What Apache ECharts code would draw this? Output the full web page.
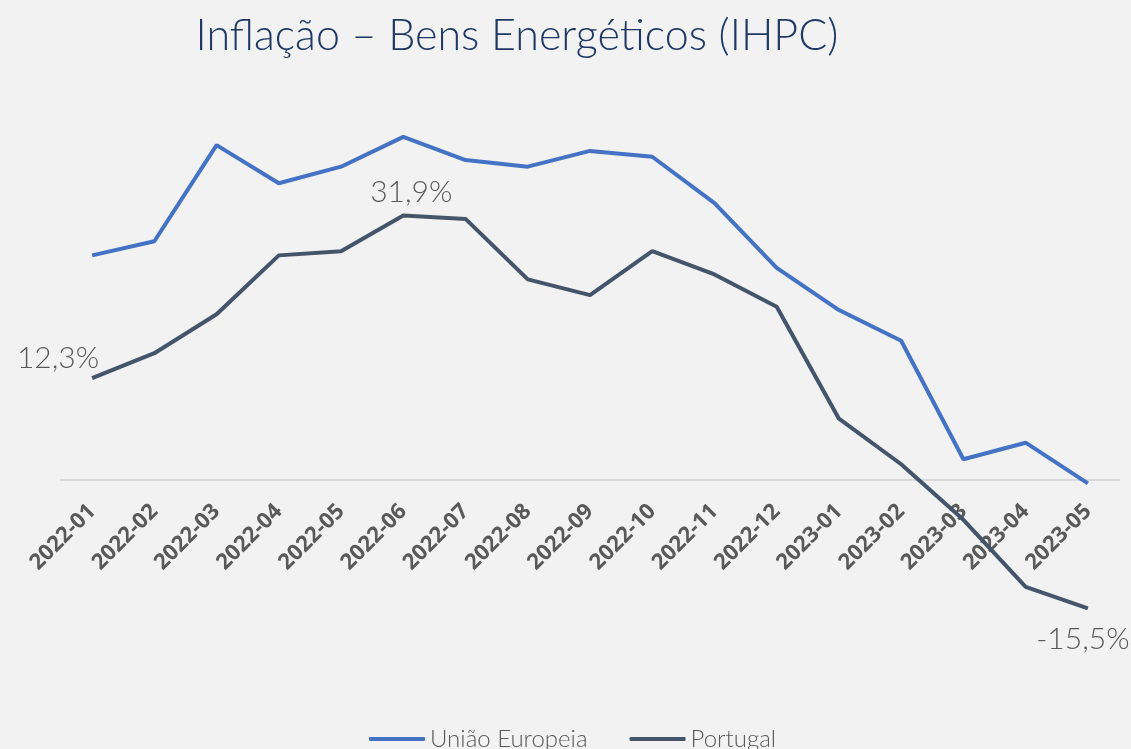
<!DOCTYPE html>
<html>
<head>
<meta charset="utf-8">
<script src="https://cdn.jsdelivr.net/npm/echarts@6/dist/echarts.min.js"></script>
<style>
  html, body { margin: 0; padding: 0; background: #f2f2f2; }
  #chart { width: 1131px; height: 749px; }
</style>
</head>
<body>
<div id="chart"></div>
<script>
var months = ['2022-01', '2022-02', '2022-03', '2022-04', '2022-05', '2022-06', '2022-07', '2022-08', '2022-09',
  '2022-10', '2022-11', '2022-12', '2023-01', '2023-02', '2023-03', '2023-04', '2023-05']
var ue = [27.1, 28.8, 40.4, 35.8, 37.8, 41.4, 38.6, 37.8, 39.7, 39.0, 33.4, 25.6, 20.5, 16.8, 2.5, 4.5, -0.4]
var portugal = [12.3, 15.3, 20.0, 27.1, 27.6, 31.9, 31.5, 24.2, 22.3, 27.6, 24.8, 20.9, 7.4, 1.9, -4.8, -12.9, -15.5]
// pontos de Portugal com etiqueta
var labelled = {0: 'left', 5: 'top', 16: 'bottom'}

var chart = echarts.init(document.getElementById('chart'))

function fmt (v) {
  return v.toFixed(1).replace('.', ',') + '%'
}

var ptData = portugal.map(function (v, i) {
  var item = { value: v }
  if (labelled.hasOwnProperty(i)) {
    var pos = labelled[i]
    item.label = {
      show: true,
      position: pos,
      distance: pos === 'left' ? 4 : 8,
      offset: pos === 'left' ? [11, -20] : (pos === 'bottom' ? [-5, 8] : [8, 0])
    }
  }
  return item
})

chart.setOption({
  backgroundColor: '#f2f2f2',
  animation: false,
  title: {
    text: 'Inflação – Bens Energéticos (IHPC)',
    left: 512,
    textAlign: 'center',
    top: 10,
    textStyle: {
      color: '#203864',
      fontFamily: 'Lato',
      fontWeight: 300,
      fontSize: 43
    }
  },
  legend: {
    bottom: -7,
    left: 364,
    itemWidth: 56,
    itemHeight: 4,
    itemGap: 42,
    icon: 'roundRect',
    textStyle: {
      color: '#595959',
      fontFamily: 'Lato',
      fontWeight: 300,
      fontSize: 24
    },
    data: ['União Europeia', 'Portugal']
  },
  grid: {
    left: 61,
    right: 12,
    top: 107,
    bottom: 269,
    containLabel: false
  },
  xAxis: {
    type: 'category',
    data: months,
    axisLine: { show: true, lineStyle: { color: '#d9d9d9', width: 2 } },
    axisTick: { show: false },
    axisLabel: {
      rotate: 45,
      interval: 0,
      margin: 28,
      color: '#595959',
      fontFamily: 'Open Sans',
      fontWeight: 'bold',
      fontSize: 22
    }
  },
  yAxis: {
    type: 'value',
    min: 0,
    max: 45,
    axisLine: { show: false },
    axisTick: { show: false },
    axisLabel: { show: false },
    splitLine: { show: false }
  },
  series: [
    {
      name: 'União Europeia',
      type: 'line',
      data: ue,
      clip: false,
      symbol: 'none',
      color: '#4472c4',
      lineStyle: { width: 4, color: '#4472c4' }
    },
    {
      name: 'Portugal',
      type: 'line',
      data: ptData,
      clip: false,
      symbol: 'circle',
      symbolSize: 0,
      showSymbol: true,
      color: '#44546a',
      lineStyle: { width: 4, color: '#44546a' },
      label: {
        show: false,
        color: '#595959',
        fontFamily: 'Lato',
        fontWeight: 300,
        fontSize: 30,
        formatter: function (p) { return fmt(p.value) }
      }
    }
  ]
})
</script>
</body>
</html>
